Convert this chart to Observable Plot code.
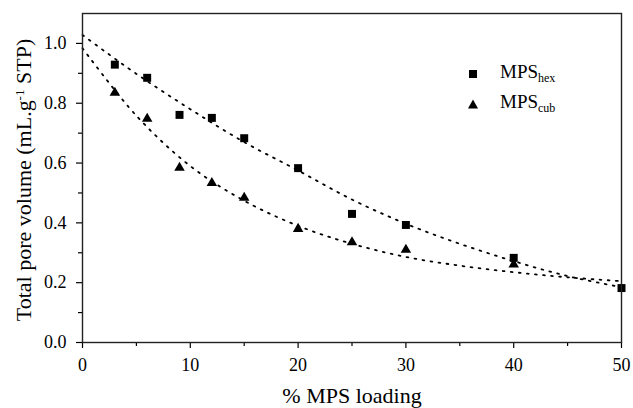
<!DOCTYPE html>
<html>
<head>
<meta charset="utf-8">
<script src="https://cdn.jsdelivr.net/npm/d3@7"></script>
<script src="https://cdn.jsdelivr.net/npm/@observablehq/plot@0.6"></script>
<style>
  html, body { margin: 0; padding: 0; background: #fff; }
  #wrap { position: relative; width: 633px; height: 408px; overflow: hidden; font-family: "Liberation Serif", serif; }
  .leg { position: absolute; left: 0; top: 0; font-size: 19px; color: #000; }
  .leg .row { position: absolute; white-space: nowrap; }
  .leg sub { font-size: 12px; vertical-align: -4px; }
</style>
</head>
<body>
<div id="wrap"></div>
<script>
// MPS loading (%) for each sample
const loading = [3, 6, 9, 12, 15, 20, 25, 30, 40, 50];
// Total pore volume, hexagonal MPS
const hexVolume = [0.929, 0.885, 0.761, 0.751, 0.683, 0.583, 0.430, 0.393, 0.283, 0.182];
// Cubic MPS (no visible point at 50)
const cubLoading = [3, 6, 9, 12, 15, 20, 25, 30, 40];
const cubVolume = [0.835, 0.748, 0.584, 0.533, 0.484, 0.380, 0.335, 0.310, 0.261];

// Dotted fit curves
const fitX = [0, 5, 10, 15, 20, 25, 30, 35, 40, 45, 50];
const hexFit = [1.028, 0.898, 0.78, 0.67, 0.575, 0.478, 0.397, 0.33, 0.272, 0.222, 0.185];
const cubFit = [0.984, 0.758, 0.59, 0.474, 0.39, 0.33, 0.286, 0.257, 0.235, 0.218, 0.205];

// Axis ticks
const xTicks = [0, 10, 20, 30, 40, 50];
const xMinor = [5, 15, 25, 35, 45];
const yTicks = [0.0, 0.2, 0.4, 0.6, 0.8, 1.0];
const yMinor = [0.1, 0.3, 0.5, 0.7, 0.9];

const xLabel = "% MPS loading";
const yLabelMain = "Total pore volume (mL.g";
const yLabelSup = "-1";
const yLabelEnd = "\u00a0STP)";
const legendNames = ["hex", "cub"];

const hexPts = loading.map((x, i) => ({x, y: hexVolume[i]}));
const cubPts = cubLoading.map((x, i) => ({x, y: cubVolume[i]}));
const hexLine = fitX.map((x, i) => ({x, y: hexFit[i]}));
const cubLine = fitX.map((x, i) => ({x, y: cubFit[i]}));

const font = "Liberation Serif, serif";
const dotted = {stroke: "#000", strokeWidth: 1.8, strokeDasharray: "1.8,6.3", curve: "catmull-rom"};

const chart = Plot.plot({
  width: 633,
  height: 408,
  marginLeft: 82,
  marginRight: 12,
  marginTop: 13,
  marginBottom: 66,
  style: {fontFamily: font, fontSize: "18px", color: "#000", background: "#fff"},
  x: {domain: [0, 50]},
  y: {domain: [0, 1.1]},
  marks: [
    Plot.line(hexLine, {x: "x", y: "y", ...dotted}),
    Plot.line(cubLine, {x: "x", y: "y", ...dotted}),
    Plot.dot(hexPts, {x: "x", y: "y", symbol: "square", r: 4.5, fill: "#000", stroke: "none"}),
    Plot.dot(cubPts, {x: "x", y: "y", symbol: "triangle", r: 3.9, fill: "#000", stroke: "none"}),
    Plot.axisX({ticks: xTicks, tickSize: 6, tickPadding: 10, tickFormat: d3.format("d"), label: xLabel, labelAnchor: "center", labelArrow: "none", labelOffset: 60, fontSize: 18, stroke: "#000", strokeWidth: 1.2}),
    Plot.axisX({ticks: xMinor, tickSize: 4, text: null, label: null, stroke: "#000", strokeWidth: 1.2}),
    Plot.axisY({ticks: yTicks, tickSize: 6, tickPadding: 10, tickFormat: d3.format(".1f"), label: null, fontSize: 18, stroke: "#000", strokeWidth: 1.2}),
    Plot.axisY({ticks: yMinor, tickSize: 4, text: null, label: null, stroke: "#000", strokeWidth: 1.2}),
    Plot.frame({stroke: "#222", strokeWidth: 1.4})
  ]
});

const svg = d3.select(chart);
svg.selectAll("text").each(function() {
  const t = d3.select(this);
  t.attr("font-family", "Liberation Serif").style("font-family", "'Liberation Serif'");
  if (t.text() === xLabel) t.attr("font-size", 22).style("font-size", "22px");
});

// Y axis title, rotated, in the SVG
const yt = svg.append("text")
  .attr("transform", "translate(31,180) rotate(-90)")
  .attr("text-anchor", "middle")
  .attr("fill", "#000")
  .attr("font-family", "Liberation Serif")
  .style("font-family", "'Liberation Serif'")
  .attr("font-size", 22)
  .style("font-size", "22px")
  .style("white-space", "pre");
yt.append("tspan").text(yLabelMain);
yt.append("tspan").attr("baseline-shift", "super").attr("font-size", 13).style("font-size", "13px").text(yLabelSup);
yt.append("tspan").attr("baseline-shift", "0").text(yLabelEnd);

const wrap = document.getElementById("wrap");
wrap.appendChild(chart);

// Legend
const leg = document.createElement("div");
leg.className = "leg";
const rows = [
  {name: legendNames[0], top: 61, shape: '<rect x="1" y="1" width="8" height="8" fill="#000"/>'},
  {name: legendNames[1], top: 91, shape: '<path d="M5 0.5 L10 9.5 L0 9.5 Z" fill="#000"/>'}
];
for (const r of rows) {
  const row = document.createElement("div");
  row.className = "row";
  row.style.left = "468px";
  row.style.top = r.top + "px";
  row.innerHTML = '<svg width="10" height="10" style="position:absolute;left:0;top:8px">' + r.shape + '</svg>' +
    '<span style="position:absolute;left:32px;top:0">MPS<sub>' + r.name + '</sub></span>';
  leg.appendChild(row);
}
wrap.appendChild(leg);
</script>
</body>
</html>
